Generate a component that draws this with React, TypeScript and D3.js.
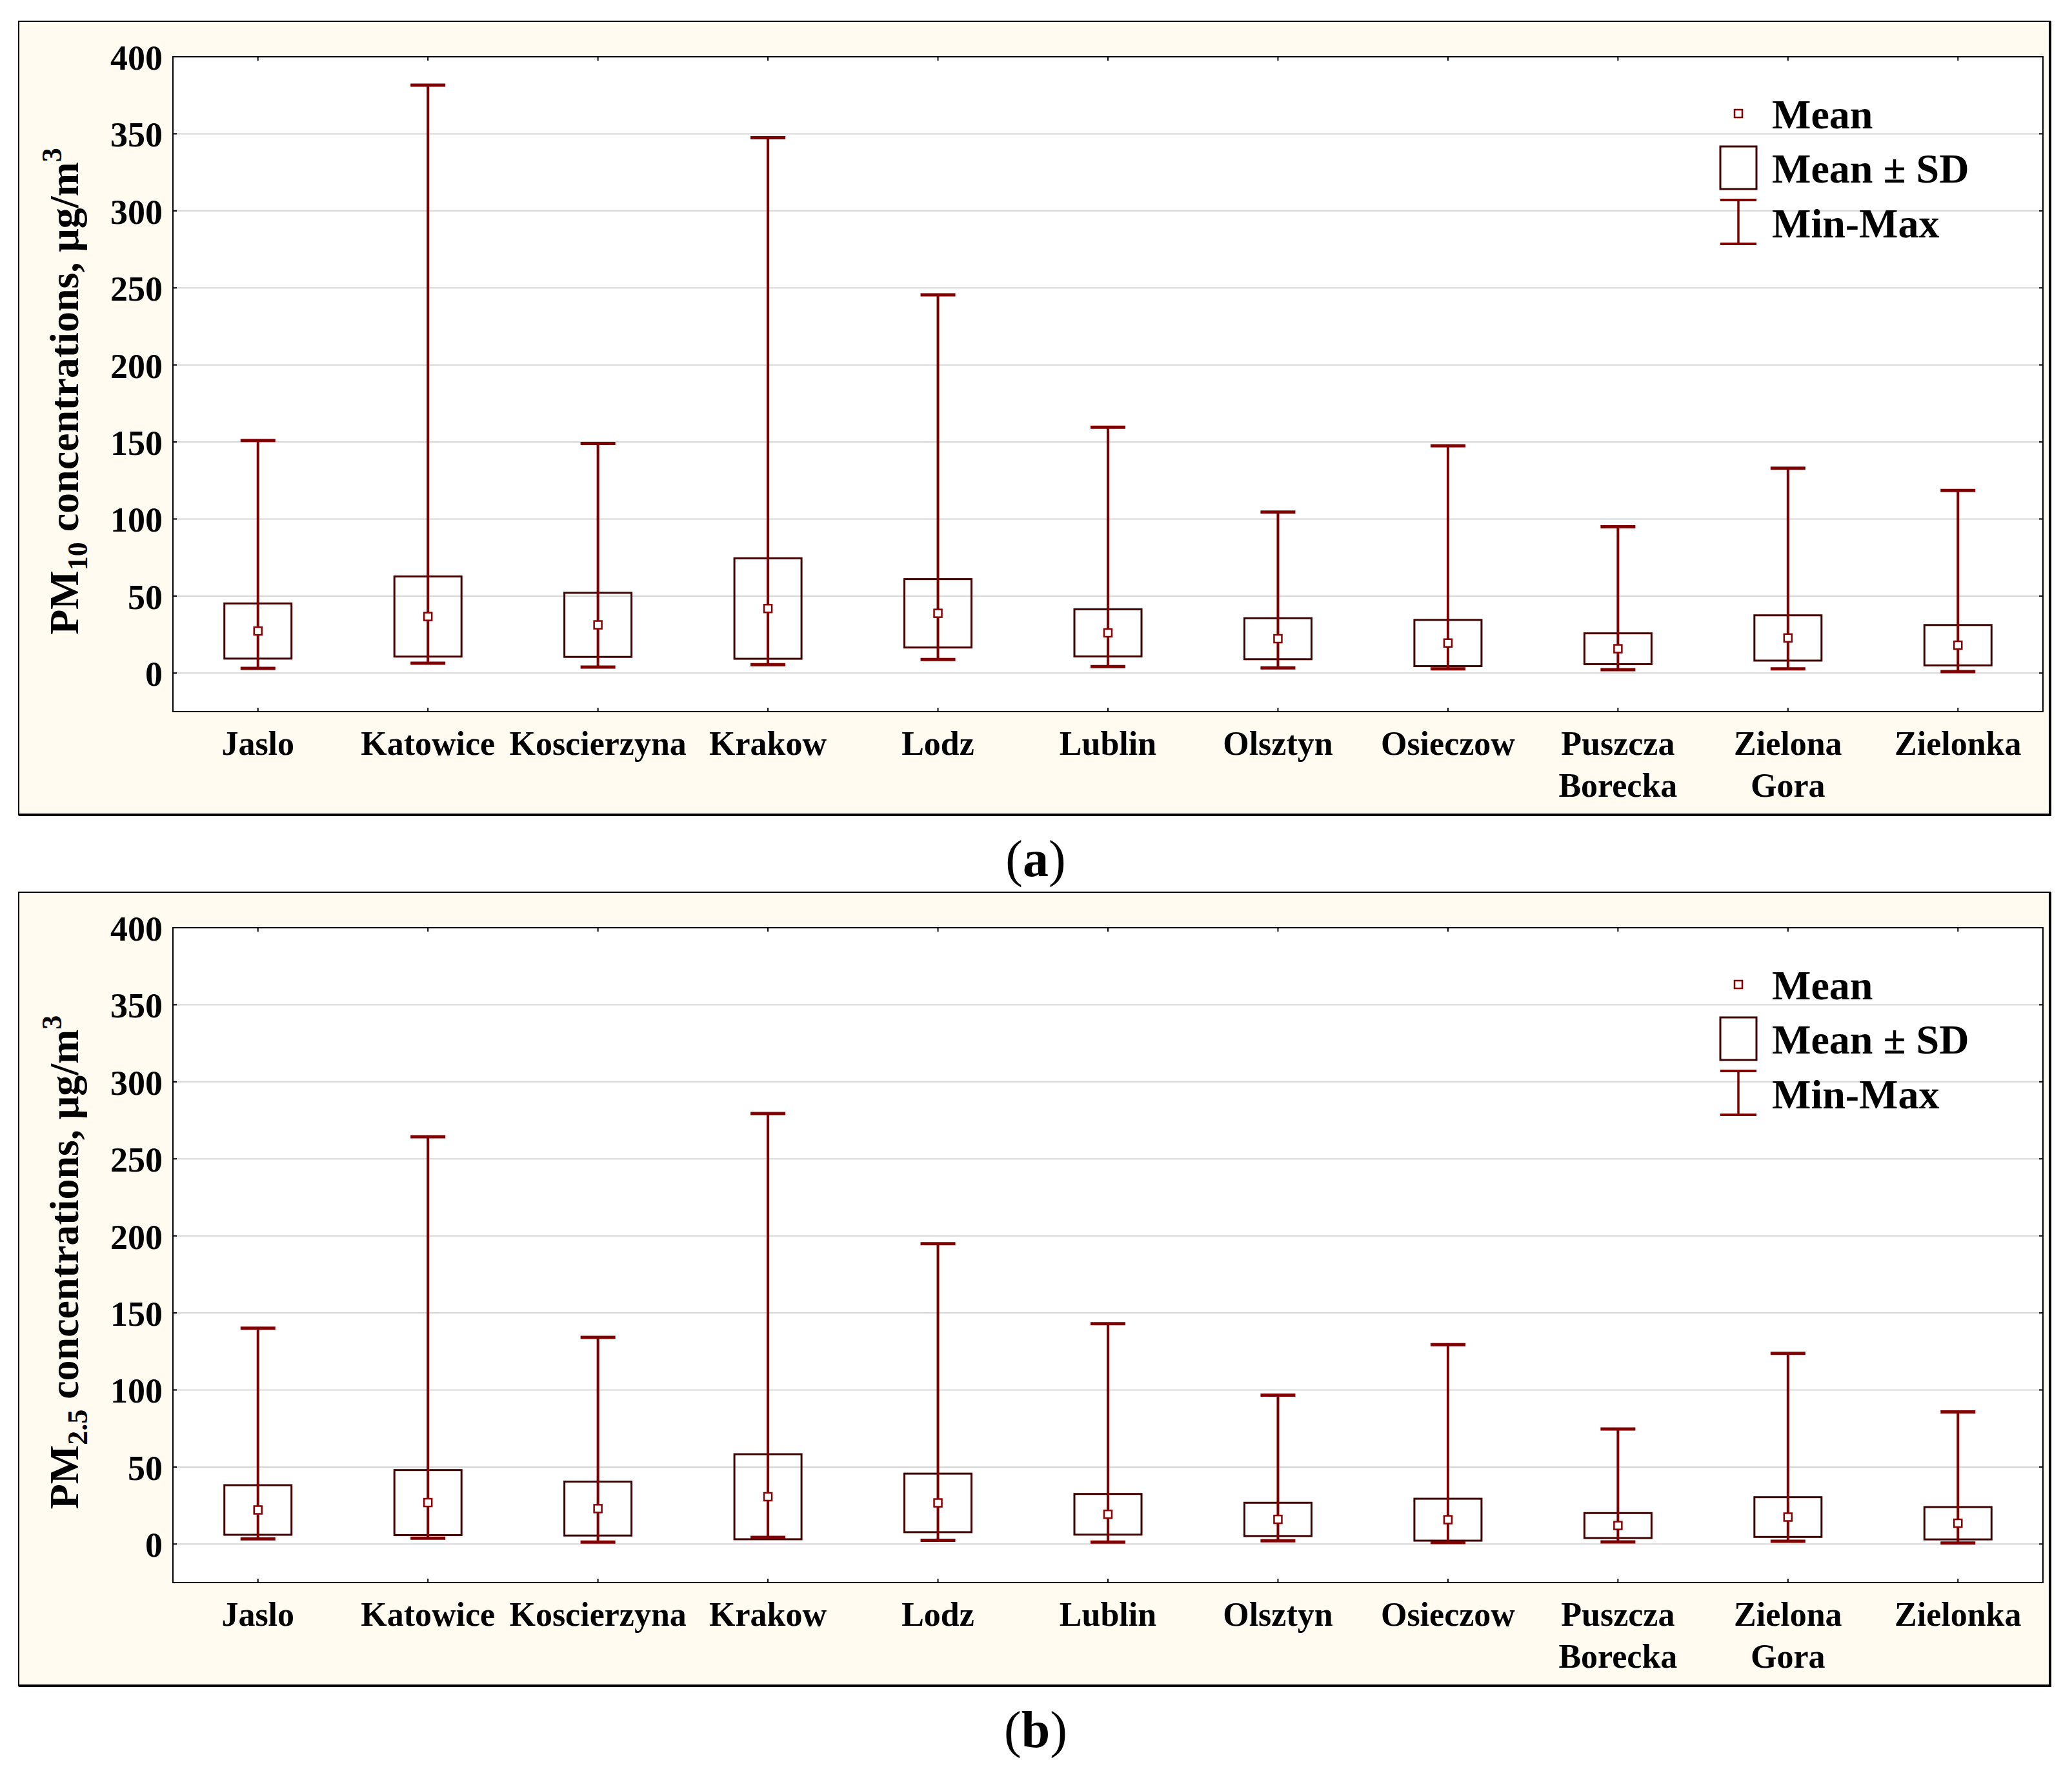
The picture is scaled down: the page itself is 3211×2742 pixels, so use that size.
import React, { useEffect } from "react";
import * as d3 from "d3";

const categories: string[][] = [
  ["Jaslo"], ["Katowice"], ["Koscierzyna"], ["Krakow"], ["Lodz"], ["Lublin"],
  ["Olsztyn"], ["Osieczow"], ["Puszcza", "Borecka"], ["Zielona", "Gora"], ["Zielonka"],
];
const yTicks = [0, 50, 100, 150, 200, 250, 300, 350, 400];

// PM10
const pm10Mean = [27.3, 36.7, 31.3, 41.9, 38.8, 26.1, 22.3, 19.5, 15.8, 22.8, 18.1];
const pm10Sd = [17.9, 26.0, 20.8, 32.6, 22.2, 15.3, 13.3, 15.0, 10.0, 14.7, 13.1];
const pm10Min = [3.1, 6.4, 3.9, 5.5, 8.8, 4.2, 3.4, 2.7, 2.2, 2.7, 1.0];
const pm10Max = [151, 381.6, 149, 347.5, 245.5, 159.5, 104.5, 147.5, 95, 133, 118.5];

// PM2.5
const pm25Mean = [22.1, 26.9, 23.0, 30.7, 26.7, 19.3, 16.0, 15.8, 12.0, 17.5, 13.5];
const pm25Sd = [16.1, 21.1, 17.5, 27.6, 19.0, 13.2, 10.8, 13.6, 8.1, 12.9, 10.5];
const pm25Min = [3.4, 3.8, 1.3, 4.3, 2.4, 1.3, 2.1, 1.0, 1.4, 1.8, 0.6];
const pm25Max = [140.1, 264.3, 134.1, 279.4, 194.9, 143.0, 96.6, 129.4, 74.7, 123.8, 85.8];

const FONT = "'Liberation Serif', 'Times New Roman', serif";
const CREAM = "#FFFBF0";
const WHISK = "#7F0000";
const BOXC = "#3F0000";
const MEANC = "#8B0000";

const PL = 268, PR = 3166, PT = 88, PB = 1103;

type PanelProps = {
  dy: number; mean: number[]; sd: number[]; min: number[]; max: number[];
  sub: string; caption: string;
};

function Panel({ dy, mean, sd, min, max, sub, caption }: PanelProps) {
  const labels = categories.map((c) => c.join(" "));
  const x = d3.scaleBand<string>().domain(labels).range([PL, PR]).padding(0);
  const y = d3.scaleLinear().domain([-25, 400]).range([PB, PT]);
  const bw = x.bandwidth();
  const cx = (i: number) => (x(labels[i]) as number) + bw / 2;
  const boxW = 104, capW = 54, meanS = 12;

  return (
    <g transform={`translate(0,${dy})`}>
      {/* outer frame */}
      <rect x={29} y={33} width={3148} height={1230} fill={CREAM} stroke="#000" strokeWidth={2} />
      <line x1={3177} x2={3177} y1={33} y2={1265} stroke="#000" strokeWidth={4} />
      <line x1={29} x2={3179} y1={1263} y2={1263} stroke="#000" strokeWidth={4} />
      {/* plot area */}
      <rect x={PL} y={PT} width={PR - PL} height={PB - PT} fill="#fff" />
      {yTicks.map((t) => (
        <line key={"g" + t} x1={PL} x2={PR} y1={y(t)} y2={y(t)} stroke="#D6D6D6" strokeWidth={2} />
      ))}
      {/* boxes & whiskers */}
      {labels.map((l, i) => (
        <g key={l}>
          <rect x={cx(i) - boxW / 2} y={y(mean[i] + sd[i])} width={boxW}
            height={y(mean[i] - sd[i]) - y(mean[i] + sd[i])} fill="none" stroke={BOXC} strokeWidth={3} />
          <line x1={cx(i)} x2={cx(i)} y1={y(max[i])} y2={y(min[i])} stroke={WHISK} strokeWidth={4} />
          <line x1={cx(i) - capW / 2} x2={cx(i) + capW / 2} y1={y(max[i])} y2={y(max[i])} stroke={WHISK} strokeWidth={5} />
          <line x1={cx(i) - capW / 2} x2={cx(i) + capW / 2} y1={y(min[i])} y2={y(min[i])} stroke={WHISK} strokeWidth={5} />
          <rect x={cx(i) - meanS / 2} y={y(mean[i]) - meanS / 2} width={meanS} height={meanS}
            fill="#fff" stroke={MEANC} strokeWidth={2.5} />
        </g>
      ))}
      {/* plot border */}
      <rect x={PL} y={PT} width={PR - PL} height={PB - PT} fill="none" stroke="#000" strokeWidth={2} />
      {/* ticks */}
      {labels.map((l, i) => (
        <g key={"t" + l}>
          <line x1={cx(i)} x2={cx(i)} y1={PB} y2={PB - 6} stroke="#000" strokeWidth={2} />
          <line x1={cx(i)} x2={cx(i)} y1={PT} y2={PT + 6} stroke="#000" strokeWidth={2} />
        </g>
      ))}
      {yTicks.map((t) => (
        <g key={"yt" + t}>
          <line x1={PL} x2={PL + 6} y1={y(t)} y2={y(t)} stroke="#000" strokeWidth={2} />
          <line x1={PR} x2={PR - 6} y1={y(t)} y2={y(t)} stroke="#000" strokeWidth={2} />
          <text x={252} y={y(t) + 20} textAnchor="end" fontFamily={FONT} fontWeight="bold" fontSize={54}>{t}</text>
        </g>
      ))}
      {/* category labels */}
      {categories.map((c, i) => (
        <text key={"c" + i} x={cx(i)} y={1170} textAnchor="middle" fontFamily={FONT} fontWeight="bold" fontSize={52}>
          {c.map((line, k) => (
            <tspan key={k} x={cx(i)} dy={k === 0 ? 0 : 65}>{line}</tspan>
          ))}
        </text>
      ))}
      {/* y title */}
      <text transform={`translate(121,${(PT + PB) / 2 + 11}) rotate(-90)`} textAnchor="middle"
        fontFamily={FONT} fontWeight="bold" fontSize={64}>
        PM<tspan fontSize={44} dy={14}>{sub}</tspan>
        <tspan dy={-14}> concentrations, μg/m</tspan>
        <tspan fontSize={44} dy={-26}>3</tspan>
      </text>
      {/* legend */}
      <rect x={2694 - 6} y={176 - 6} width={12} height={12} fill="#fff" stroke={MEANC} strokeWidth={2.5} />
      <text x={2746} y={199} fontFamily={FONT} fontWeight="bold" fontSize={64}>Mean</text>
      <rect x={2666} y={227} width={56} height={66} fill="#fff" stroke={BOXC} strokeWidth={3} />
      <text x={2746} y={283} fontFamily={FONT} fontWeight="bold" fontSize={64}>Mean ± SD</text>
      <line x1={2694} x2={2694} y1={310} y2={378} stroke={WHISK} strokeWidth={3.5} />
      <line x1={2666} x2={2722} y1={310} y2={310} stroke={WHISK} strokeWidth={4} />
      <line x1={2666} x2={2722} y1={378} y2={378} stroke={WHISK} strokeWidth={4} />
      <text x={2746} y={368} fontFamily={FONT} fontWeight="bold" fontSize={64}>Min-Max</text>
      {/* caption */}
      <text x={1605} y={1358} textAnchor="middle" fontFamily={FONT} fontSize={80}>
        (<tspan fontWeight="bold">{caption}</tspan>)
      </text>
    </g>
  );
}

export default function App() {
  useEffect(() => {
    document.body.style.margin = "0";
  }, []);
  return (
    <svg width={3211} height={2742} viewBox="0 0 3211 2742"
      style={{ position: "absolute", left: 0, top: 0, display: "block", background: "#fff" }}>
      <rect width={3211} height={2742} fill="#fff" />
      <Panel dy={0} mean={pm10Mean} sd={pm10Sd} min={pm10Min} max={pm10Max} sub="10" caption="a" />
      <Panel dy={1350} mean={pm25Mean} sd={pm25Sd} min={pm25Min} max={pm25Max} sub="2.5" caption="b" />
    </svg>
  );
}
